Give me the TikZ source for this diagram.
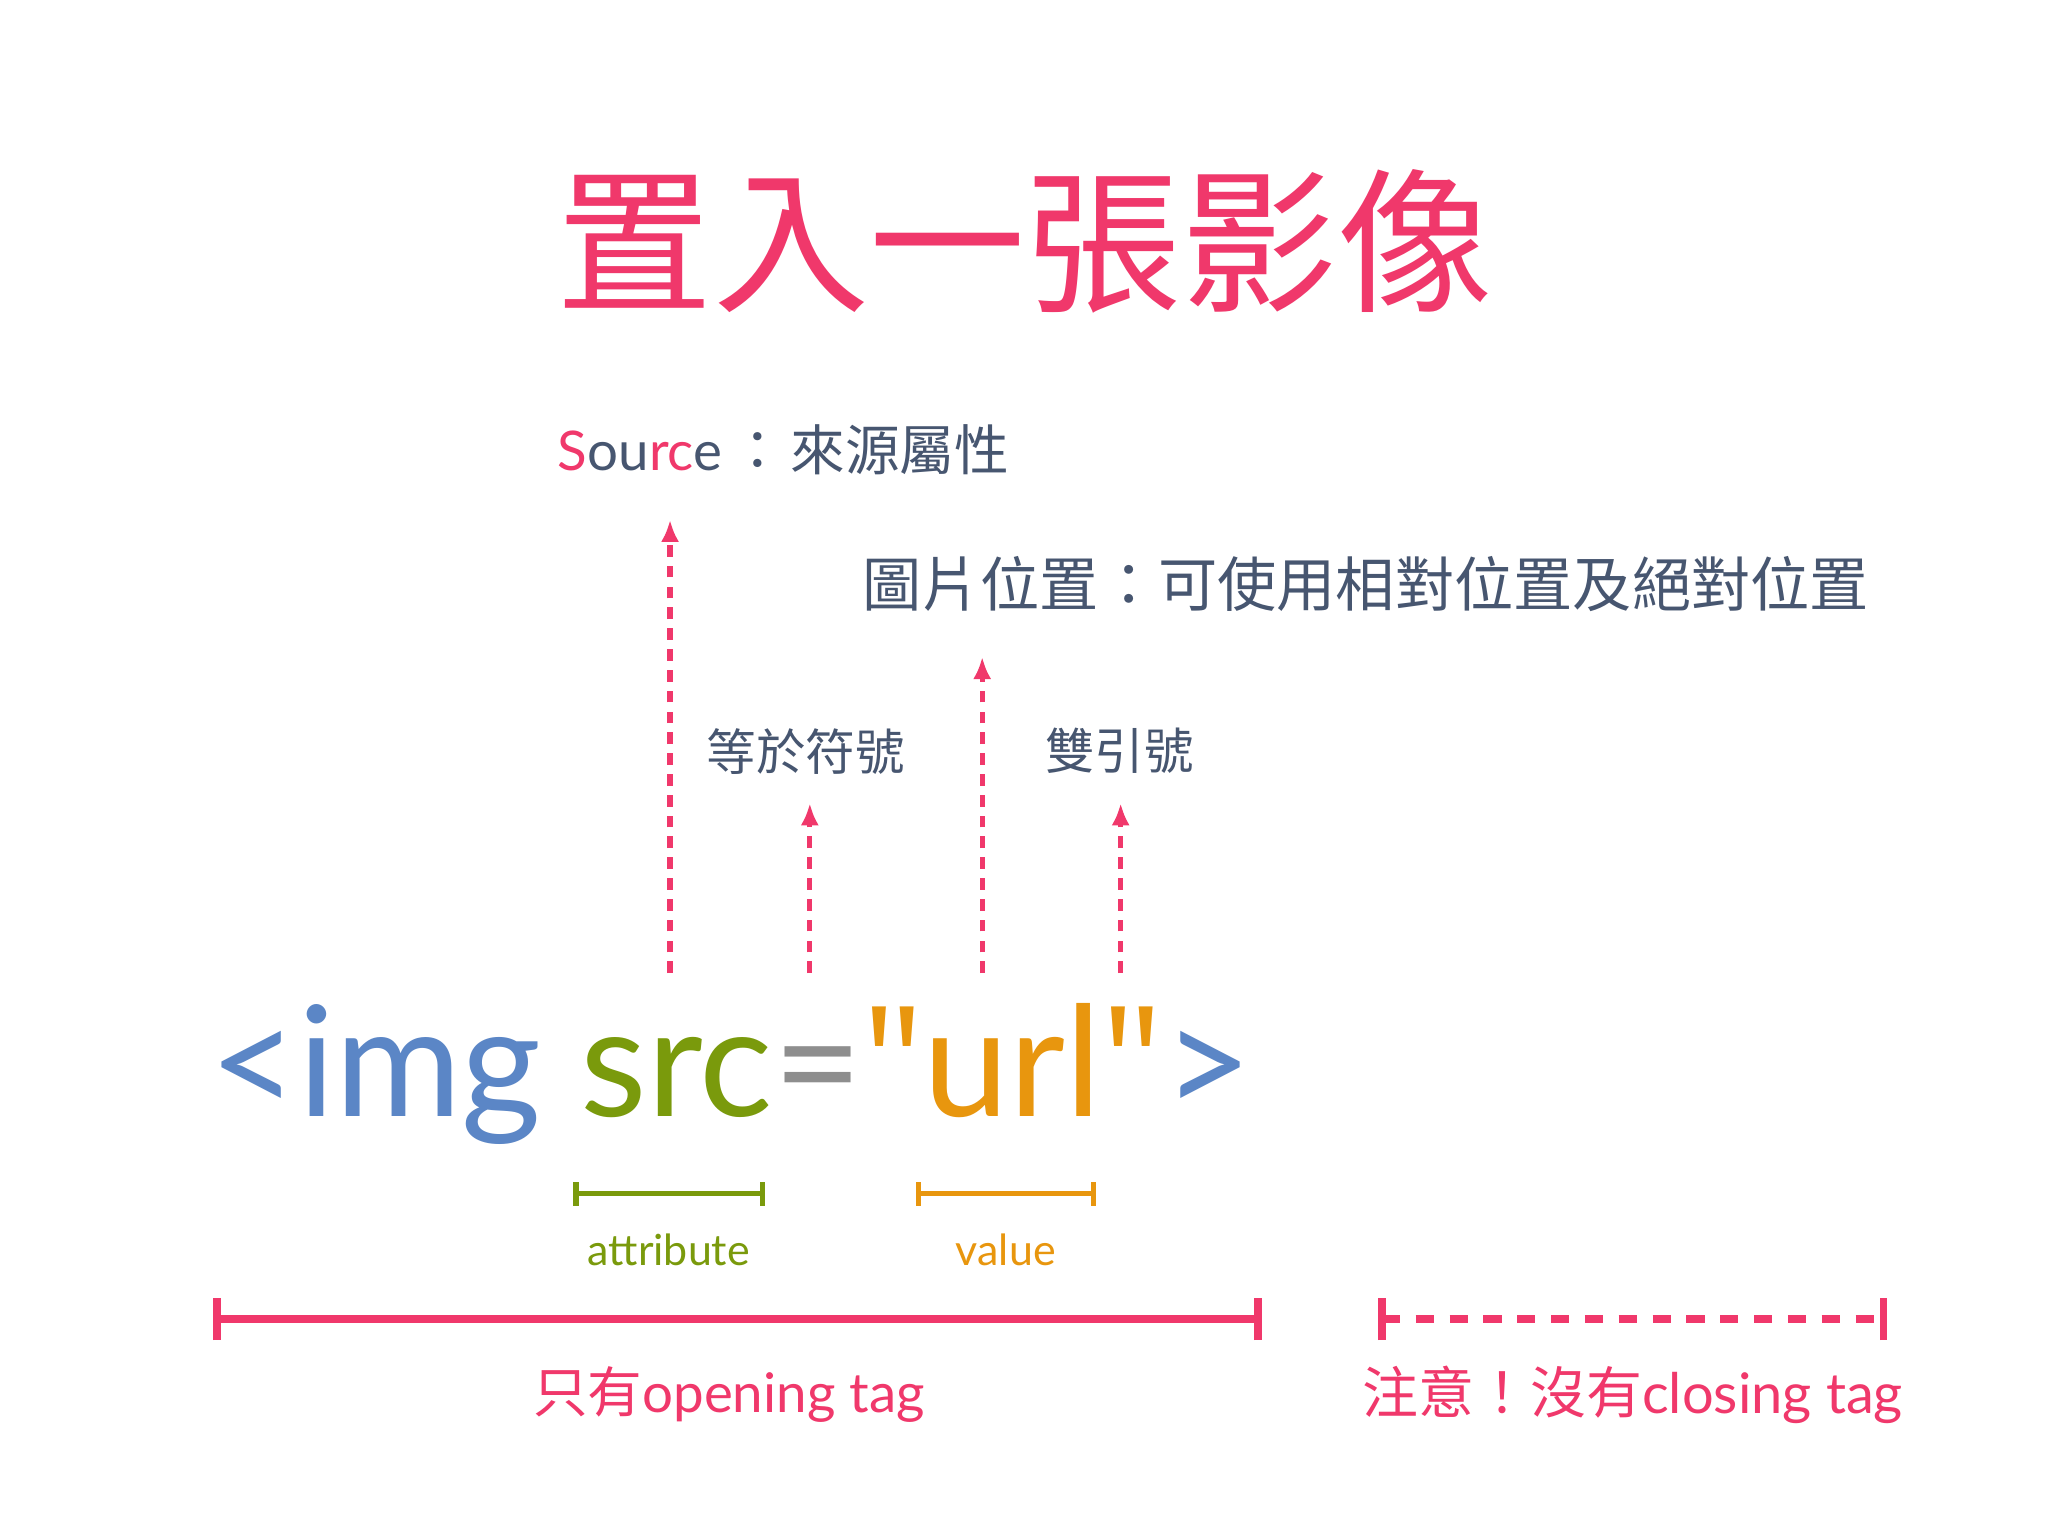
\documentclass[tikz,border=0pt]{standalone}
\usepackage{fontspec}
\setmainfont{Lato}
\newfontfamily\cjk{Noto Sans CJK TC}
\newfontfamily\qf{Open Sans}
\usetikzlibrary{arrows.meta}
\definecolor{pk}{HTML}{F0386B}
\definecolor{bl}{HTML}{5B86C6}
\definecolor{gr}{HTML}{7A9A0C}
\definecolor{og}{HTML}{E8960E}
\definecolor{gy}{HTML}{8E8E8E}
\definecolor{sl}{HTML}{475670}
\newcommand{\fs}[1]{\fontsize{#1}{#1}\selectfont}
\newcommand{\sq}{{\qf\char"22\relax}}
\begin{document}
\begin{tikzpicture}[x=1bp,y=-1bp,
  arr/.style={pk,line width=4,dash pattern=on 9 off 7,-{Latex[length=17,width=14]}},
  lbl/.style={inner sep=0,text=sl}]
\fill[white] (0,0) rectangle (1568,1176);
\node[inner sep=0,text=pk] (title) at (785,185) {\cjk\fs{120}置入一張影像};
\node[lbl,anchor=base west] (src) at (427,360) {\fs{42}\textcolor{pk}{S}ou\textcolor{pk}{rc}e\hspace{6bp}{\cjk ：\hspace{4bp}來源屬性}};
\node[lbl,anchor=base west] (pos) at (660,464) {\cjk\fs{45.5}圖片位置：可使用相對位置及絕對位置};
\node[lbl] (eq) at (617,575) {\cjk\fs{38}等於符號};
\node[lbl] (qt) at (857,575) {\cjk\fs{38}雙引號};
\coordinate (a1) at (513,745); \coordinate (b1) at (513,398);
\coordinate (a2) at (620,745); \coordinate (b2) at (620,615);
\coordinate (a3) at (752,745); \coordinate (b3) at (752,503);
\coordinate (a4) at (858,745); \coordinate (b4) at (858,615);
\draw[arr] (a1)--(b1); \draw[arr] (a2)--(b2); \draw[arr] (a3)--(b3); \draw[arr] (a4)--(b4);
\node[inner sep=0,anchor=base west] (code) at (160,855) {\fs{118}\textcolor{bl}{<img} \textcolor{gr}{src}\textcolor{gy}{=}\textcolor{og}{\sq url\sq}\textcolor{bl}{>}};
\coordinate (g1) at (441,914); \coordinate (g2) at (584,914);
\draw[gr,line width=4] (g1)--(g2) ([yshift=-9]g1)--([yshift=9]g1) ([yshift=-9]g2)--([yshift=9]g2);
\node[inner sep=0,text=gr] (attr) at (512,957) {\fs{33}attribute};
\coordinate (o1) at (703,914); \coordinate (o2) at (837,914);
\draw[og,line width=4] (o1)--(o2) ([yshift=-9]o1)--([yshift=9]o1) ([yshift=-9]o2)--([yshift=9]o2);
\node[inner sep=0,text=og] (val) at (770,957) {\fs{33}value};
\coordinate (p1) at (166,1010); \coordinate (p2) at (963,1010);
\draw[pk,line width=6] (p1)--(p2) ([yshift=-16]p1)--([yshift=16]p1) ([yshift=-16]p2)--([yshift=16]p2);
\node[inner sep=0,text=pk] (open) at (558,1068) {\fs{42}{\cjk 只有}opening tag};
\coordinate (q1) at (1058,1010); \coordinate (q2) at (1442,1010);
\draw[pk,line width=6,dash pattern=on 14 off 12] (q1)--(q2);
\draw[pk,line width=6] ([yshift=-16]q1)--([yshift=16]q1) ([yshift=-16]q2)--([yshift=16]q2);
\node[inner sep=0,text=pk] (close) at (1250,1068) {\fs{43}{\cjk 注意！沒有}closing tag};
\end{tikzpicture}
\end{document}
